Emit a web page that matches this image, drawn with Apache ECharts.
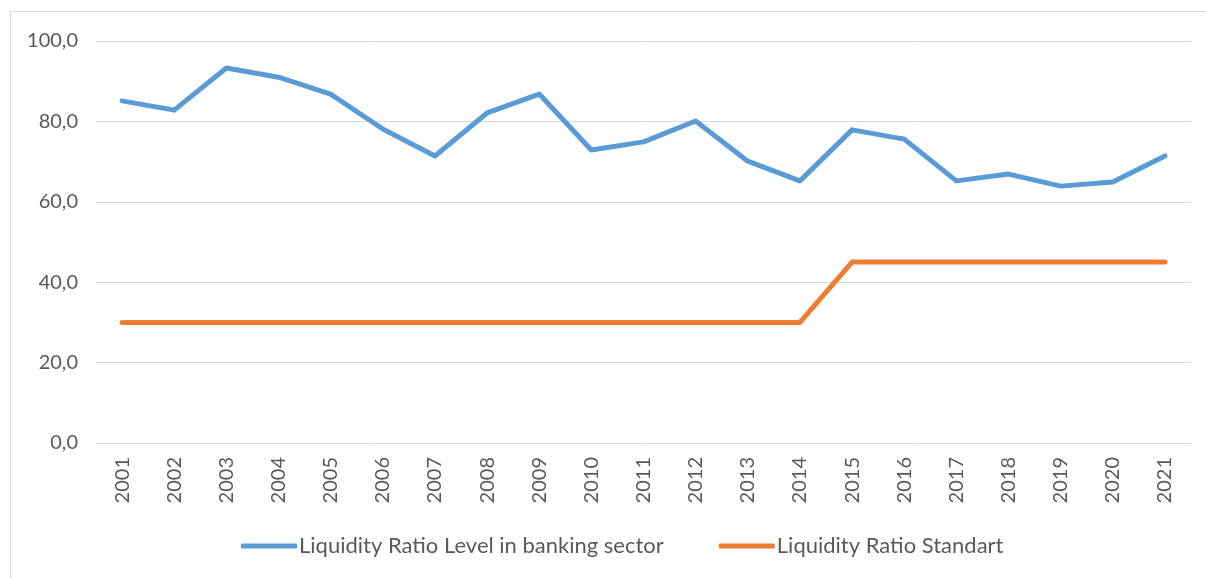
<!DOCTYPE html>
<html>
  <head>
    <meta charset="UTF-8">
    <title>Liquidity Ratio</title>
    <script src="https://cdn.jsdelivr.net/npm/echarts@6/dist/echarts.min.js"></script>
    <style>
      body { margin: 0; background: #fff; }
      #frame { position: absolute; left: 10px; top: 11px; width: 1210px; height: 580px; border: 1px solid #d9d9d9; }
      #main { position: absolute; left: 0; top: 0; width: 1206px; height: 578px; }
    </style>
  </head>
  <body>
    <div id="frame"></div>
    <div id="main"></div>
    <script type="text/javascript">
      // data
      var years = ['2001','2002','2003','2004','2005','2006','2007','2008','2009','2010',
                   '2011','2012','2013','2014','2015','2016','2017','2018','2019','2020','2021'];
      var levelBanking = [85.1, 82.8, 93.3, 91.0, 86.8, 78.1, 71.4, 82.1, 86.8, 72.9,
                          74.9, 80.1, 70.1, 65.2, 77.9, 75.6, 65.2, 66.9, 63.9, 64.9, 71.4];
      var standart = [30, 30, 30, 30, 30, 30, 30, 30, 30, 30,
                      30, 30, 30, 30, 45, 45, 45, 45, 45, 45, 45];
      var seriesNames = ['Liquidity Ratio Level in banking sector', 'Liquidity Ratio Standart'];

      var font = 'Lato, "Noto Sans", sans-serif';
      var chart = echarts.init(document.getElementById('main'));
      chart.setOption({
        animation: false,
        color: ['#5B9BD5', '#ED7D31'],
        grid: { left: 96, right: 15, top: 41, bottom: 135 },
        legend: {
          left: 236,
          bottom: 16,
          itemWidth: 56,
          itemHeight: 5,
          itemGap: 55,
          icon: 'roundRect',
          data: seriesNames,
          textStyle: { color: '#595959', fontSize: 22, fontFamily: font, padding: [0, 0, 0, -3] }
        },
        xAxis: {
          type: 'category',
          data: years,
          boundaryGap: true,
          axisLine: { show: false },
          axisTick: { show: false },
          axisLabel: { rotate: 90, color: '#595959', fontSize: 20, fontFamily: font, margin: 14 }
        },
        yAxis: {
          type: 'value',
          min: 0,
          max: 100,
          interval: 20,
          axisLine: { show: false },
          axisTick: { show: false },
          splitLine: { lineStyle: { color: '#d9d9d9', width: 1 } },
          axisLabel: {
            color: '#595959', fontSize: 20, fontFamily: font, margin: 18,
            formatter: function (v) { return v.toFixed(1).replace('.', ','); }
          }
        },
        series: [
          { name: seriesNames[0], type: 'line', data: levelBanking, showSymbol: false,
            lineStyle: { width: 5, cap: 'round', join: 'round' } },
          { name: seriesNames[1], type: 'line', data: standart, showSymbol: false,
            lineStyle: { width: 5, cap: 'round', join: 'round' } }
        ]
      });
    </script>
  </body>
</html>
